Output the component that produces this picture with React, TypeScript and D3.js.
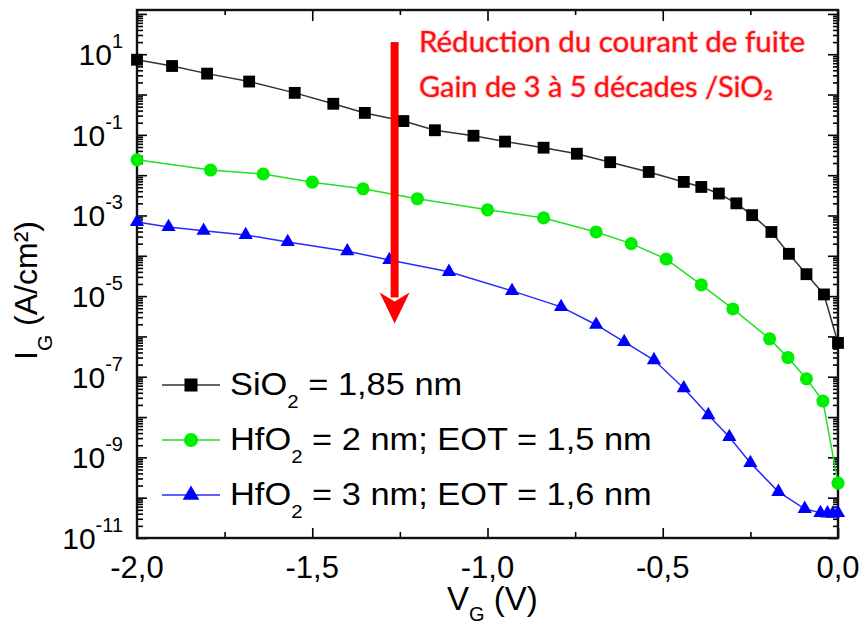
import React, { useEffect, useRef } from 'react';
import * as d3 from 'd3';

// SiO2 = 1,85 nm
const sio2V = [-2.0, -1.9, -1.8, -1.68, -1.55, -1.44, -1.35, -1.24, -1.15, -1.04, -0.95, -0.84, -0.745, -0.65, -0.54, -0.44, -0.39, -0.34, -0.29, -0.245, -0.19, -0.14, -0.09, -0.04, 0.0];
const sio2I = [7.3, 5.1, 3.3, 2.1, 1.1, 0.59, 0.35, 0.22, 0.13, 0.095, 0.068, 0.048, 0.034, 0.021, 0.012, 0.0068, 0.0051, 0.0035, 0.002, 1.02e-3, 3.9e-4, 1.12e-4, 3.5e-5, 1.1e-5, 6.9e-7];

// HfO2 = 2 nm
const hfo2aV = [-2.0, -1.79, -1.64, -1.5, -1.355, -1.2, -1.0, -0.84, -0.69, -0.59, -0.49, -0.39, -0.3, -0.195, -0.143, -0.09, -0.043, 0.0];
const hfo2aI = [0.024, 0.0134, 0.0107, 0.0067, 0.0046, 0.0026, 0.00138, 8.7e-4, 3.9e-4, 2.0e-4, 8.3e-5, 1.9e-5, 4.8e-6, 8.7e-7, 3.0e-7, 8.9e-8, 2.5e-8, 2.3e-10];

// HfO2 = 3 nm
const hfo2bV = [-2.0, -1.91, -1.81, -1.69, -1.57, -1.4, -1.28, -1.11, -0.93, -0.79, -0.69, -0.61, -0.525, -0.44, -0.37, -0.31, -0.25, -0.17, -0.095, -0.05, -0.03, -0.015, 0.0];
const hfo2bI = [6.9e-4, 5.2e-4, 4.2e-4, 3.3e-4, 2.2e-4, 1.3e-4, 7.9e-5, 4.0e-5, 1.35e-5, 5.4e-6, 1.95e-6, 7.3e-7, 2.6e-7, 5.2e-8, 1.12e-8, 3.2e-9, 7.3e-10, 1.4e-10, 5.3e-11, 4.2e-11, 4.1e-11, 4.0e-11, 4.2e-11];

const xTicks = [-2.0, -1.5, -1.0, -0.5, 0.0];
const xTickLabels = ['-2,0', '-1,5', '-1,0', '-0,5', '0,0'];
const xMinorTicks = [-1.75, -1.25, -0.75, -0.25];
const yLabelExponents = [1, -1, -3, -5, -7, -9, -11];

const legendNames = ['SiO', 'HfO', 'HfO'];
const legendRest = [' = 1,85 nm', ' = 2 nm; EOT = 1,5 nm', ' = 3 nm; EOT = 1,6 nm'];

const noteLines = ['Réduction du courant de fuite', 'Gain de 3 à 5 décades /SiO₂'];
// arrow in data units (V, A/cm²)
const arrowV = -1.265;
const arrowTop = 20;
const arrowTip = 2.1e-6;

const FONT = '"Liberation Sans", Arial, sans-serif';

const App = () => {
  const ref = useRef<SVGSVGElement>(null);

  useEffect(() => {
    const svg = d3.select(ref.current);
    svg.selectAll('*').remove();

    const x = d3.scaleLinear().domain([-2, 0]).range([137, 838]);
    const y = d3.scaleLog().domain([1e-11, 125]).range([538, 10]);
    const [x0, x1] = x.range();
    const [y0, y1] = y.range();

    svg.append('rect').attr('width', 866).attr('height', 628).attr('fill', '#fff');

    // log ticks
    const yMajor: number[] = [];
    const yMinor: number[] = [];
    for (let k = -11; k <= 2; k++) {
      const v = Math.pow(10, k);
      if (v <= 125) yMajor.push(v);
      for (let j = 2; j <= 9; j++) if (j * v <= 125) yMinor.push(j * v);
    }

    const addAxis = (axis: any) => {
      const g = svg.append('g').call(axis);
      g.select('.domain').remove();
      g.selectAll('line').attr('stroke', '#000').attr('stroke-width', 1.6);
      g.selectAll('text').remove();
      return g;
    };

    addAxis(d3.axisLeft(y).tickValues(yMajor).tickSize(-10).tickSizeOuter(0)).attr('transform', `translate(${x0},0)`);
    addAxis(d3.axisLeft(y).tickValues(yMinor).tickSize(-6).tickSizeOuter(0)).attr('transform', `translate(${x0},0)`);
    addAxis(d3.axisRight(y).tickValues(yMajor).tickSize(-10).tickSizeOuter(0)).attr('transform', `translate(${x1},0)`);
    addAxis(d3.axisRight(y).tickValues(yMinor).tickSize(-5).tickSizeOuter(0)).attr('transform', `translate(${x1},0)`);
    addAxis(d3.axisBottom(x).tickValues(xTicks).tickSize(-10).tickSizeOuter(0)).attr('transform', `translate(0,${y0})`);
    addAxis(d3.axisBottom(x).tickValues(xMinorTicks).tickSize(-6).tickSizeOuter(0)).attr('transform', `translate(0,${y0})`);
    addAxis(d3.axisTop(x).tickValues(xTicks).tickSize(-11).tickSizeOuter(0)).attr('transform', `translate(0,${y1})`);
    addAxis(d3.axisTop(x).tickValues(xMinorTicks).tickSize(-5).tickSizeOuter(0)).attr('transform', `translate(0,${y1})`);

    // frame
    svg.append('rect')
      .attr('x', x0).attr('y', y1)
      .attr('width', x1 - x0).attr('height', y0 - y1)
      .attr('fill', 'none').attr('stroke', '#111').attr('stroke-width', 2.4);

    // tick labels
    svg.append('g')
      .selectAll('text')
      .data(xTicks)
      .join('text')
      .attr('x', d => x(d))
      .attr('y', 578)
      .attr('text-anchor', 'middle')
      .attr('font-family', FONT)
      .attr('font-size', 31)
      .text((d, i) => xTickLabels[i]);

    svg.append('g')
      .selectAll('text')
      .data(yLabelExponents)
      .join('text')
      .attr('x', 123)
      .attr('y', d => y(Math.pow(10, d)) + 11)
      .attr('text-anchor', 'end')
      .attr('font-family', FONT)
      .attr('font-size', 30)
      .each(function (d) {
        const t = d3.select(this);
        t.append('tspan').text('10');
        t.append('tspan').attr('dy', -17).attr('font-size', 20).text(String(d));
      });

    // axis titles
    const xt = svg.append('text')
      .attr('x', 447).attr('y', 610)
      .attr('font-family', FONT).attr('font-size', 33);
    xt.append('tspan').text('V');
    xt.append('tspan').attr('dy', 11).attr('font-size', 20).text('G');
    xt.append('tspan').attr('dy', -11).text(' (V)');

    const yt = svg.append('text')
      .attr('transform', 'translate(37,360) rotate(-90)')
      .attr('font-family', FONT).attr('font-size', 32);
    yt.append('tspan').text('I');
    yt.append('tspan').attr('dy', 15).attr('font-size', 21).text('G');
    yt.append('tspan').attr('dy', -15).text(' (A/cm²)');

    // series
    const series = [
      { v: sio2V, i: sio2I, color: '#000', line: '#333', sym: d3.symbolSquare, size: 140, lsize: 170 },
      { v: hfo2aV, i: hfo2aI, color: '#00ee00', line: '#22e022', sym: d3.symbolCircle, size: 135, lsize: 155 },
      { v: hfo2bV, i: hfo2bI, color: '#0000ff', line: '#2a2aff', sym: d3.symbolTriangle, size: 88, lsize: 120 },
    ];

    const line = d3.line<[number, number]>().x(d => x(d[0])).y(d => y(d[1]));

    series.forEach(s => {
      const pts = s.v.map((v, k) => [v, s.i[k]] as [number, number]);
      svg.append('path')
        .datum(pts)
        .attr('d', line)
        .attr('fill', 'none')
        .attr('stroke', s.line)
        .attr('stroke-width', 1.5);
      svg.append('g')
        .selectAll('path')
        .data(pts)
        .join('path')
        .attr('transform', d => `translate(${x(d[0])},${y(d[1])})`)
        .attr('d', d3.symbol().type(s.sym).size(s.size)())
        .attr('fill', s.color);
    });

    // legend
    const legend = svg.append('g');
    series.forEach((s, k) => {
      const ly = 385 + k * 55;
      legend.append('line')
        .attr('x1', 162).attr('x2', 220).attr('y1', ly).attr('y2', ly)
        .attr('stroke', s.line).attr('stroke-width', 1.5);
      legend.append('path')
        .attr('transform', `translate(191,${ly})`)
        .attr('d', d3.symbol().type(s.sym).size(s.lsize)())
        .attr('fill', s.color);
      const t = legend.append('text')
        .attr('x', 230).attr('y', ly + 10)
        .attr('font-family', FONT).attr('font-size', 32)
        .attr('transform', `translate(230,0) scale(1.075,1) translate(-230,0)`);
      t.append('tspan').text(legendNames[k]);
      t.append('tspan').attr('dy', 13).attr('font-size', 19).text('2');
      t.append('tspan').attr('dy', -13).text(legendRest[k]);
    });

    // annotation
    const ax = x(arrowV);
    const aTop = y(arrowTop);
    const aTip = y(arrowTip);
    svg.append('rect')
      .attr('x', ax - 4).attr('y', aTop)
      .attr('width', 8).attr('height', aTip - aTop - 26)
      .attr('fill', '#ff0000');
    svg.append('path')
      .attr('d', `M${ax - 15},${aTip - 31} L${ax},${aTip - 22} L${ax + 15},${aTip - 31} L${ax},${aTip} Z`)
      .attr('fill', '#ff0000');

    svg.append('g')
      .selectAll('text')
      .data(noteLines)
      .join('text')
      .attr('x', 419)
      .attr('y', (d, i) => 52 + i * 45)
      .attr('font-family', 'Lato, "Open Sans", sans-serif')
      .attr('font-size', 28)
      .attr('fill', '#ff1010')
      .attr('stroke', '#ffb8b8')
      .attr('stroke-width', 1.5)
      .attr('paint-order', 'stroke')
      .attr('textLength', (d, i) => (i === 0 ? 386 : 354))
      .attr('lengthAdjust', 'spacingAndGlyphs')
      .text(d => d);
  }, []);

  return (
    <svg
      ref={ref}
      width={866}
      height={628}
      style={{ position: 'absolute', left: 0, top: 0, display: 'block' }}
    />
  );
};

export default App;
